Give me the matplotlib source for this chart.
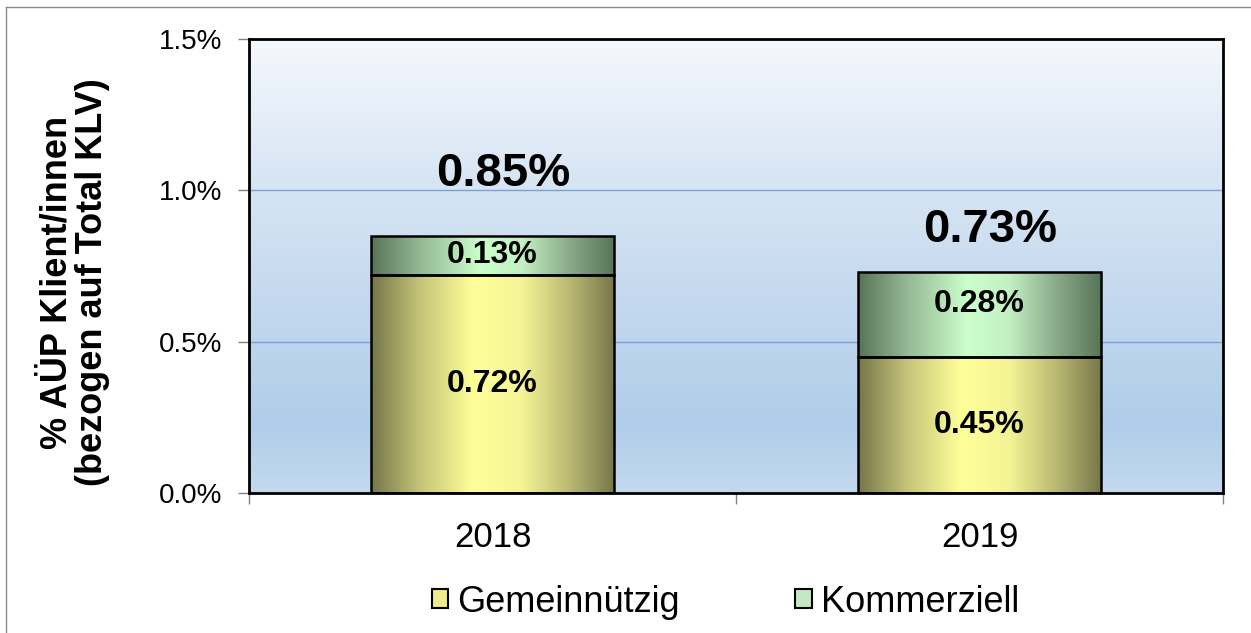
import numpy as np
import matplotlib.pyplot as plt
from matplotlib.colors import LinearSegmentedColormap
from matplotlib.patches import Rectangle
from matplotlib.lines import Line2D

plt.rcParams['font.family'] = ['Liberation Sans', 'DejaVu Sans']

# data (percent)
years = ['2018', '2019']
gemeinnuetzig = [0.72, 0.45]
kommerziell = [0.13, 0.28]
totals = [0.85, 0.73]
series_names = ['Gemeinnützig', 'Kommerziell']

# colour ramps for the bars (edge - centre - edge)
yellow = LinearSegmentedColormap.from_list(
    'y', [(0, '#76764a'), (0.2, '#c4c47a'), (0.42, '#ffff99'),
          (0.62, '#f4f496'), (0.82, '#b8b872'), (1, '#76764a')])
green = LinearSegmentedColormap.from_list(
    'g', [(0, '#587458'), (0.2, '#94b894'), (0.45, '#ccffcc'),
          (0.62, '#c2f0c2'), (0.82, '#88a888'), (1, '#587458')])
bg = LinearSegmentedColormap.from_list(
    'bg', [(0, '#c3d9ee'), (0.15, '#b0cde9'), (0.45, '#c6daef'),
           (0.7, '#d8e6f4'), (1, '#f5f8fc')])

fig = plt.figure(figsize=(12.51, 6.33), dpi=100)
ax = fig.add_axes([249/1251, 1 - 493/633, 974/1251, 454/633])

# background gradient of the plot area
grad = np.linspace(0, 1, 256).reshape(-1, 1)
ax.imshow(grad, cmap=bg, origin='lower', aspect='auto',
          extent=[0, 1, 0, 1], transform=ax.transAxes, zorder=0)

width = 0.5
hgrad = np.linspace(0, 1, 256).reshape(1, -1)
x = np.arange(len(years))


def gradient_bars(xs, heights, bottoms, cmap):
    bars = ax.bar(xs, heights, width, bottom=bottoms, facecolor='none',
                  edgecolor='black', linewidth=1.8, zorder=3)
    for b in bars:
        x0, y0 = b.get_x(), b.get_y()
        im = ax.imshow(hgrad, cmap=cmap, aspect='auto',
                       extent=[x0, x0 + b.get_width(), y0, y0 + b.get_height()],
                       zorder=2)
        im.set_clip_path(b)
    return bars


gradient_bars(x, gemeinnuetzig, 0, yellow)
gradient_bars(x, kommerziell, gemeinnuetzig, green)
ax.set_xlim(-0.5, 1.5)
ax.set_ylim(0, 1.5)

# gridlines
for yv in [0.5, 1.0]:
    ax.axhline(yv, color='#7f9fd2', linewidth=1, zorder=1)

# segment labels (relative position inside the upper segment)
kom_pos = [0.5, 0.62]
for i in range(len(years)):
    ax.text(x[i], gemeinnuetzig[i] / 2, f'{gemeinnuetzig[i]:.2f}%',
            ha='center', va='center', fontsize=23, fontweight='bold', zorder=5)
    ax.text(x[i], gemeinnuetzig[i] + kommerziell[i] * kom_pos[i], f'{kommerziell[i]:.2f}%',
            ha='center', va='center', fontsize=23, fontweight='bold', zorder=5)

# total labels (placed like the text boxes in the original)
label_dx = [0.022, 0.022]
label_dy = [0.205, 0.14]
for i in range(len(years)):
    ax.text(x[i] + label_dx[i], totals[i] + label_dy[i], f'{totals[i]:.2f}%',
            ha='center', va='center', fontsize=34, fontweight='bold', zorder=5)

# axes styling
ax.set_yticks([0, 0.5, 1.0, 1.5])
ax.set_yticklabels(['0.0%', '0.5%', '1.0%', '1.5%'], fontsize=20)
ax.set_xticks(x)
ax.set_xticklabels(years, fontsize=25)
ax.set_xticks([-0.5, 0.5, 1.5], minor=True)
ax.tick_params(axis='y', direction='out', length=8, width=1, color='#808080', pad=11)
ax.tick_params(axis='x', which='major', length=0, pad=20)
ax.tick_params(axis='x', which='minor', direction='out', length=8, width=1, color='#808080')
for s in ax.spines.values():
    s.set_linewidth(2)
    s.set_color('black')
    s.set_zorder(6)

fig.text(75/1251, 1 - 282/633, '% AÜP Klient/innen\n(bezogen auf Total KLV)',
         rotation=90, ha='center', va='center', multialignment='center',
         fontsize=26, fontweight='bold', linespacing=1.0)

# legend
handles = [Rectangle((0, 0), 1, 1, facecolor='#ecec8c', edgecolor='black', linewidth=1.5),
           Rectangle((0, 0), 1, 1, facecolor='#c3e8c3', edgecolor='black', linewidth=1.5)]
fig.legend(handles, series_names, loc='center', bbox_to_anchor=(0.58, 1 - 602/633),
           ncol=2, frameon=False, fontsize=26, handlelength=0.45, handleheight=0.45,
           handletextpad=0.25, columnspacing=3.2)

# thin outer frame of the chart object
fig.add_artist(Line2D([6/1251, 6/1251], [0, 1 - 7/633], color='#8c8c8c', linewidth=1,
                      transform=fig.transFigure))
fig.add_artist(Line2D([6/1251, 1], [1 - 7/633, 1 - 7/633], color='#8c8c8c', linewidth=1,
                      transform=fig.transFigure))

fig.savefig('out.png', dpi=100)
